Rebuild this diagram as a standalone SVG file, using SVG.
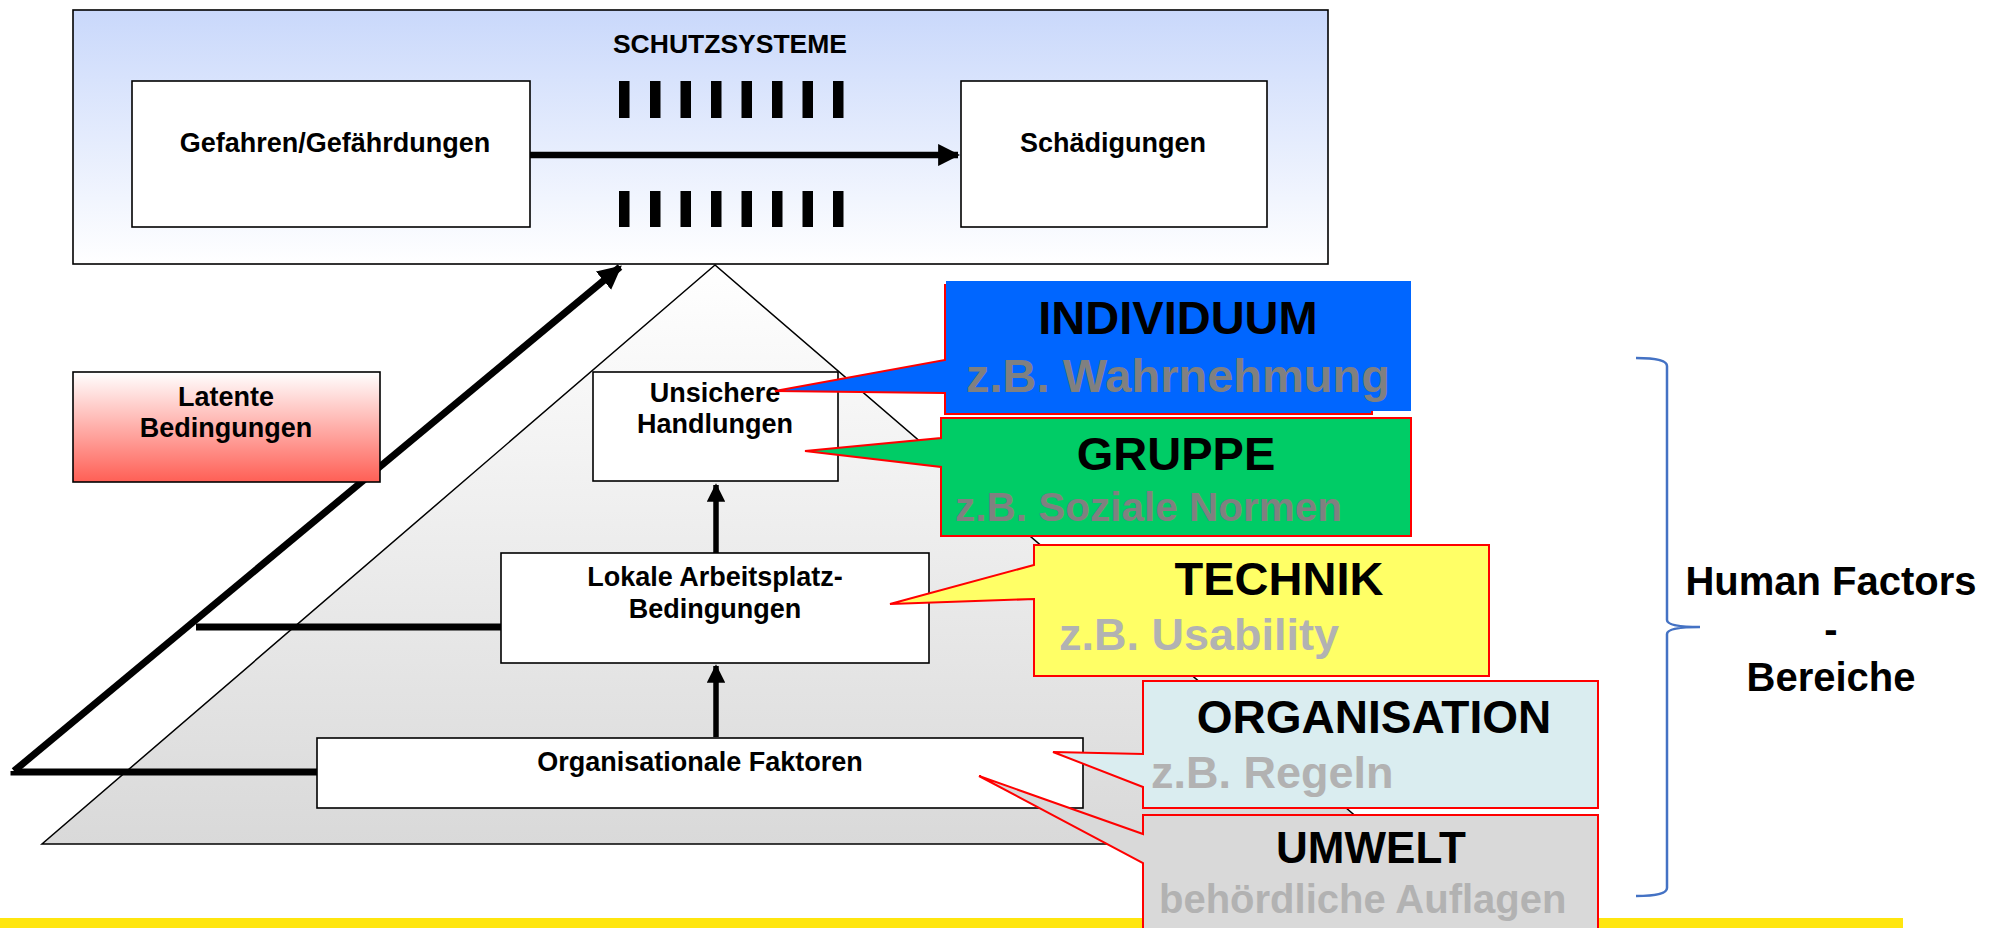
<svg xmlns="http://www.w3.org/2000/svg" width="2004" height="928" viewBox="0 0 2004 928">
<defs>
<linearGradient id="gTop" x1="0" y1="0" x2="0" y2="1"><stop offset="0" stop-color="#c9d8fb"/><stop offset="1" stop-color="#ffffff"/></linearGradient>
<linearGradient id="gTri" x1="0" y1="0" x2="0" y2="1"><stop offset="0" stop-color="#ffffff"/><stop offset="1" stop-color="#d9d9d9"/></linearGradient>
<linearGradient id="gRed" x1="0" y1="0" x2="0" y2="1"><stop offset="0" stop-color="#ffffff"/><stop offset="1" stop-color="#ff5f55"/></linearGradient>
<marker id="ah" viewBox="0 0 10 10" refX="9" refY="5" markerWidth="3.4" markerHeight="3.4" orient="auto" markerUnits="strokeWidth"><path d="M0,0 L10,5 L0,10 z" fill="#000"/></marker>
<style>
.box{fill:#fff;stroke:#000;stroke-width:1.6}
.t{font-family:"Liberation Sans",Arial,sans-serif;font-weight:bold;font-size:27px;fill:#000;text-anchor:middle}
.big{font-family:"Liberation Sans",Arial,sans-serif;font-weight:bold;font-size:47px;fill:#000;text-anchor:middle}
.sub{font-family:"Liberation Sans",Arial,sans-serif;font-weight:bold;fill:#808080}
.lt{fill:#b2b2b2}
.co{stroke:#ff0000;stroke-width:2;stroke-linejoin:miter}
.thick{stroke:#000;stroke-width:7;fill:none}
.bar{fill:#000}
</style>
</defs>
<rect x="0" y="0" width="2004" height="928" fill="#fff"/>

<g id="schutzsysteme">
<rect x="73" y="10" width="1255" height="254" fill="url(#gTop)" stroke="#000" stroke-width="1.6"/>
<text class="t" x="730" y="53" style="font-size:26.5px">SCHUTZSYSTEME</text>
<g class="bar">
<rect x="619" y="81" width="10.5" height="37"/><rect x="650" y="81" width="10.5" height="37"/><rect x="680.5" y="81" width="10.5" height="37"/><rect x="711" y="81" width="10.5" height="37"/><rect x="741.5" y="81" width="10.5" height="37"/><rect x="772" y="81" width="10.5" height="37"/><rect x="802.5" y="81" width="10.5" height="37"/><rect x="833" y="81" width="10.5" height="37"/>
<rect x="619" y="191" width="10.5" height="36"/><rect x="650" y="191" width="10.5" height="36"/><rect x="680.5" y="191" width="10.5" height="36"/><rect x="711" y="191" width="10.5" height="36"/><rect x="741.5" y="191" width="10.5" height="36"/><rect x="772" y="191" width="10.5" height="36"/><rect x="802.5" y="191" width="10.5" height="36"/><rect x="833" y="191" width="10.5" height="36"/>
</g>
</g>

<g id="pyramide">
<polygon points="715,265 42,844 1388,844" fill="url(#gTri)" stroke="#000" stroke-width="1.5"/>
</g>

<g id="gefahren">
<rect class="box" x="132" y="81" width="398" height="146"/>
<text class="t" x="335" y="152">Gefahren/Gefährdungen</text>
</g>
<g id="schaedigungen">
<rect class="box" x="961" y="81" width="306" height="146"/>
<text class="t" x="1113" y="152">Schädigungen</text>
</g>

<g id="connectors">
<line x1="530" y1="155" x2="958" y2="155" stroke="#000" stroke-width="6.5" marker-end="url(#ah)"/>
<line x1="14" y1="771" x2="620" y2="267" stroke="#000" stroke-width="7" marker-end="url(#ah)"/>
<polyline class="thick" points="14,771 14,772 317,772"/>
<line x1="196" y1="627" x2="501" y2="627" stroke="#000" stroke-width="7"/>
<line x1="716" y1="553" x2="716" y2="485" stroke="#000" stroke-width="5.5" marker-end="url(#ah)"/>
<line x1="716" y1="737" x2="716" y2="666" stroke="#000" stroke-width="5.5" marker-end="url(#ah)"/>
</g>

<g id="latente">
<rect x="73" y="372" width="307" height="110" fill="url(#gRed)" stroke="#000" stroke-width="1.6"/>
<text class="t" x="226" y="406">Latente</text>
<text class="t" x="226" y="437">Bedingungen</text>
</g>
<g id="unsichere">
<rect class="box" x="593" y="372" width="245" height="109"/>
<text class="t" x="715" y="402">Unsichere</text>
<text class="t" x="715" y="433">Handlungen</text>
</g>
<g id="lokale">
<rect class="box" x="501" y="553" width="428" height="110"/>
<text class="t" x="715" y="586">Lokale Arbeitsplatz-</text>
<text class="t" x="715" y="618">Bedingungen</text>
</g>
<g id="organisationale">
<rect class="box" x="317" y="738" width="766" height="70"/>
<text class="t" x="700" y="771">Organisationale Faktoren</text>
</g>

<g id="individuum">
<polygon class="co" points="945,285 1372,285 1372,414 945,414 945,393 775,391 945,360" fill="#0066ff"/>
<rect x="946" y="281" width="465" height="130" fill="#0066ff"/>
<text class="big" x="1178" y="334">INDIVIDUUM</text>
<text class="sub" x="1178" y="392" font-size="47" text-anchor="middle">z.B. Wahrnehmung</text>
</g>
<g id="gruppe">
<polygon class="co" points="941,418 1411,418 1411,536 941,536 941,467 805,451 941,438" fill="#00cc66"/>
<text class="big" x="1176" y="470">GRUPPE</text>
<text class="sub" x="955" y="521" font-size="40.5">z.B. Soziale Normen</text>
</g>
<g id="technik">
<polygon class="co" points="1034,545 1489,545 1489,676 1034,676 1034,599 890,604 1034,565" fill="#ffff66"/>
<text class="big" x="1279" y="595">TECHNIK</text>
<text class="sub lt" x="1059" y="650" font-size="45">z.B. Usability</text>
</g>
<g id="organisation">
<polygon class="co" points="1143,681 1598,681 1598,808 1143,808 1143,787 1053,752 1143,754" fill="#daedf0"/>
<text class="big" x="1374" y="733" style="font-size:46px">ORGANISATION</text>
<text class="sub lt" x="1151" y="788" font-size="45">z.B. Regeln</text>
</g>

<rect id="gelbbalken" x="0" y="918" width="1903" height="10" fill="#ffe60f"/>

<g id="umwelt">
<polygon class="co" points="1143,815 1598,815 1598,940 1143,940 1143,863 979,776 1143,834" fill="#d9d9d9"/>
<text class="big" x="1371" y="863" style="font-size:44px">UMWELT</text>
<text class="sub lt" x="1159" y="913" font-size="40">behördliche Auflagen</text>
</g>

<g id="human-factors">
<path d="M1636,358 Q1667,358 1667,366 L1667,620 Q1667,627 1700,627 Q1667,627 1667,634 L1667,888 Q1667,896 1636,896" fill="none" stroke="#4472c4" stroke-width="2.5"/>
<text class="t" x="1831" y="595" style="font-size:40px">Human Factors</text>
<text class="t" x="1831" y="643" style="font-size:40px">-</text>
<text class="t" x="1831" y="691" style="font-size:40px">Bereiche</text>
</g>
</svg>
